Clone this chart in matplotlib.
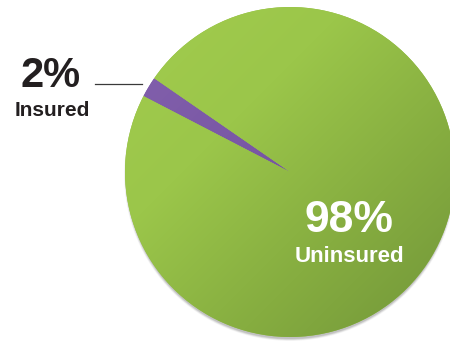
import numpy as np
import matplotlib.pyplot as plt
from matplotlib.colors import LinearSegmentedColormap
from matplotlib.patches import Circle

# share of respondents
labels = ["Insured", "Uninsured"]
shares = [2, 98]

W, H = 450, 341
cx, cy, r = 290, 169, 165

fig = plt.figure(figsize=(W / 100, H / 100), dpi=100)
ax = fig.add_axes([0, 0, 1, 1])

# soft shadow under the disc, falls downward only
for k, a in zip([2.0, 1.5, 1.0, 0.5, 0.0], [0.03, 0.04, 0.05, 0.06, 0.08]):
    ax.add_patch(Circle((cx, cy - 3), r + k - 1, color="black", alpha=a, lw=0, zorder=1))

wedges, _ = ax.pie(shares, startangle=145.4, counterclock=True, center=(cx, cy), radius=r,
                   colors=["#7a58a6", "#93bf45"], wedgeprops=dict(linewidth=0))
for w in wedges:
    w.set_zorder(2)

# diagonal shading, light at upper left, dark at lower right
yy, xx = np.mgrid[0:H, 0:W]
t = ((xx - (cx - r)) + (yy - (H - cy - r))) / (4 * r)
t = np.clip(t, 0, 1)
grads = [LinearSegmentedColormap.from_list("p", ["#8462ae", "#6a4897"]),
         LinearSegmentedColormap.from_list("g", ["#a2cc4e", "#9bc64a", "#86ad40", "#719539"])]
for w, cm in zip(wedges, grads):
    im = ax.imshow(t, cmap=cm, vmin=0, vmax=1, extent=(0, W, 0, H), origin="upper",
                   zorder=3, interpolation="bilinear")
    im.set_clip_path(w)

dark = "#231f20"
ax.text(51, H - 76, "2%", fontsize=30, fontweight="bold", family="Liberation Sans",
        color=dark, ha="center", va="center", zorder=5)
ax.text(52, H - 111, labels[0], fontsize=15, fontweight="bold", family="Liberation Sans",
        color=dark, ha="center", va="center", zorder=5)
ax.plot([95, 142], [H - 84, H - 84], color="#3a3a3a", lw=0.9, zorder=5)

ax.text(349, H - 221, "98%", fontsize=32, fontweight="bold", family="Liberation Sans",
        color="white", ha="center", va="center", zorder=5)
ax.text(349, H - 256, labels[1], fontsize=16, fontweight="bold", family="Liberation Sans",
        color="white", ha="center", va="center", zorder=5)

ax.set_xlim(0, W)
ax.set_ylim(0, H)
ax.set_aspect("auto")
ax.axis("off")

fig.savefig("out.png", dpi=100)
